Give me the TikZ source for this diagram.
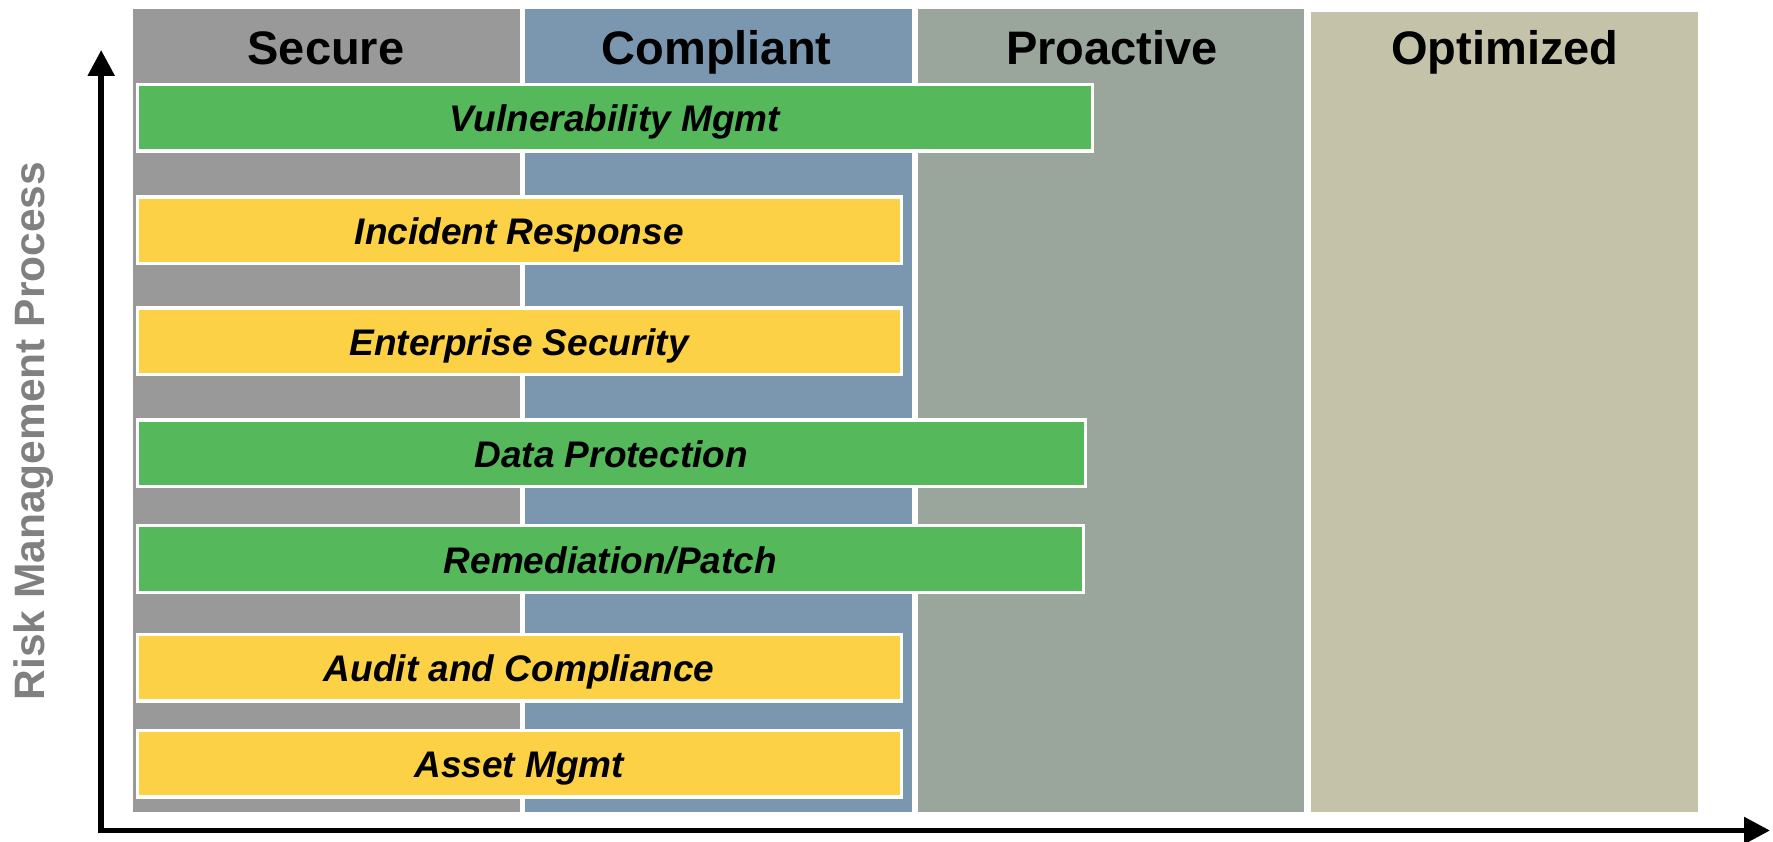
\documentclass[tikz,border=0pt]{standalone}
\usepackage{fontspec}
\setmainfont{Liberation Sans}
\usetikzlibrary{arrows.meta}

\definecolor{secgray}{HTML}{999999}
\definecolor{compblue}{HTML}{7B97AF}
\definecolor{proagreen}{HTML}{9AA59B}
\definecolor{optbeige}{HTML}{C4C3AA}
\definecolor{barGreen}{HTML}{55B85A}
\definecolor{barYellow}{HTML}{FCD145}
\definecolor{axislabel}{HTML}{808080}

\tikzset{
  column/.style={inner sep=0pt, outer sep=0pt, minimum width=387pt, anchor=north west},
  heading/.style={anchor=base, font=\fontsize{47}{50}\selectfont\bfseries, text=black, inner sep=0pt},
  bar/.style={draw=white, line width=3.3pt, inner sep=0pt, outer sep=0pt,
              minimum height=66.7pt, text height=28.4pt, text depth=0pt,
              font=\fontsize{37}{40}\selectfont\bfseries\itshape},
  greenbar/.style={bar, fill=barGreen},
  yellowbar/.style={bar, fill=barYellow},
  axis/.style={line width=5.5pt, -{Triangle[length=26pt,width=26pt]}},
}

\begin{document}
\begin{tikzpicture}[x=1pt, y=-1pt]
\useasboundingbox (0,0) rectangle (1773,842);

% maturity columns
\node[column, fill=secgray,   minimum height=802.5pt] (secure)    at (132.5,9) {};
\node[column, fill=compblue,  minimum height=802.5pt] (compliant) at (525,9) {};
\node[column, fill=proagreen, minimum height=802.5pt, minimum width=386.5pt] (proactive) at (917.5,9) {};
\node[column, fill=optbeige,  minimum height=799.5pt] (optimized) at (1311,12) {};

% column headings
\node[heading] (hsecure)    at (326,64.3)  {Secure};
\node[heading] (hcompliant) at (716.5,64.3) {Compliant};
\node[heading] (hproactive) at (1112,64.3) {Proactive};
\node[heading] (hoptimized) at (1505,64.3) {Optimized};

% process bars
\node[greenbar,  minimum width=955.2pt] (vuln)   at (614.75,117.6) {Vulnerability Mgmt};
\node[yellowbar, minimum width=764.2pt] (incid)  at (519.25,230.4) {Incident Response};
\node[yellowbar, minimum width=764.2pt] (enter)  at (519.25,341.5) {Enterprise Security};
\node[greenbar,  minimum width=948.2pt] (data)   at (611.25,453.3) {Data Protection};
\node[greenbar,  minimum width=946.2pt] (remed)  at (610.25,559)   {Remediation/Patch};
\node[yellowbar, minimum width=764.2pt] (audit)  at (519.25,667.5) {Audit and Compliance};
\node[yellowbar, minimum width=764.2pt] (asset)  at (519.25,763.5) {Asset Mgmt};

% axes
\coordinate (origin) at (101.2,833.3);
\coordinate (ytop)   at (101.2,50);
\coordinate (xstart) at (98.4,830.5);
\coordinate (xend)   at (1770,830.5);
\draw[axis] (origin) -- (ytop);
\draw[axis] (xstart) -- (xend);

% vertical axis title
\node[anchor=base, rotate=90, inner sep=0pt, text=axislabel,
      font=\fontsize{42.5}{45}\selectfont\bfseries] (ylabel) at (44,431) {Risk Management Process};
\end{tikzpicture}
\end{document}
